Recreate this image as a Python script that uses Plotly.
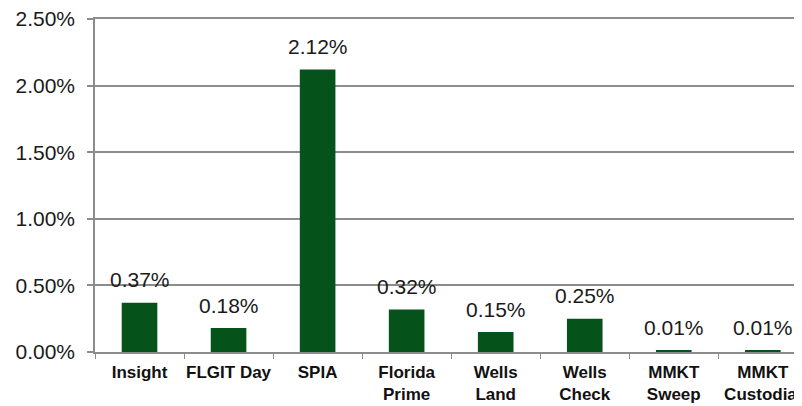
import plotly.graph_objects as go

categories = ["Insight", "FLGIT Day", "SPIA", "Florida<br>Prime", "Wells<br>Land",
              "Wells<br>Check", "MMKT<br>Sweep", "MMKT<br>Custodial"]
values = [0.37, 0.18, 2.12, 0.32, 0.15, 0.25, 0.01, 0.01]
y_ticks = [0, 0.5, 1.0, 1.5, 2.0, 2.5]

fig = go.Figure()
fig.add_trace(go.Bar(
    x=categories, y=values, width=0.4,
    marker=dict(color="#05531A", line=dict(width=0)),
    showlegend=False, hoverinfo="skip",
))

for c, v in zip(categories, values):
    fig.add_annotation(x=c, y=v, text=f"{v:.2f}%", showarrow=False,
                       yanchor="middle", yshift=23,
                       font=dict(family="Liberation Sans, Arial", size=21, color="#1a1a1a"))

grid = "#8c8c8c"
fig.update_layout(
    width=794, height=398,
    margin=dict(l=87, r=0, t=11, b=54),
    paper_bgcolor="white", plot_bgcolor="white",
    bargap=0.6,
    xaxis=dict(
        range=[-0.5, 7.44], automargin=False, tickangle=0,
        showline=True, linecolor=grid, linewidth=1.5, mirror=True,
        ticks="outside", tickson="boundaries", ticklen=5, tickcolor=grid, tickwidth=1,
        showgrid=False,
        ticklabelstandoff=4,
        tickfont=dict(family="Liberation Sans, Arial", size=17,
                      color="#111111", weight="bold"),
    ),
    yaxis=dict(
        range=[0, 2.5], tickvals=y_ticks, ticktext=[f"{t:.2f}%" for t in y_ticks],
        automargin=False, ticklabeloverflow="allow",
        showline=True, linecolor=grid, linewidth=1.5,
        ticks="outside", ticklen=6, tickcolor=grid, tickwidth=1.5,
        showgrid=True, gridcolor=grid, gridwidth=1.5,
        zeroline=False,
        ticklabelstandoff=8,
        tickfont=dict(family="Liberation Sans, Arial", size=21, color="#1a1a1a"),
    ),
)

fig.write_html("out.html")
